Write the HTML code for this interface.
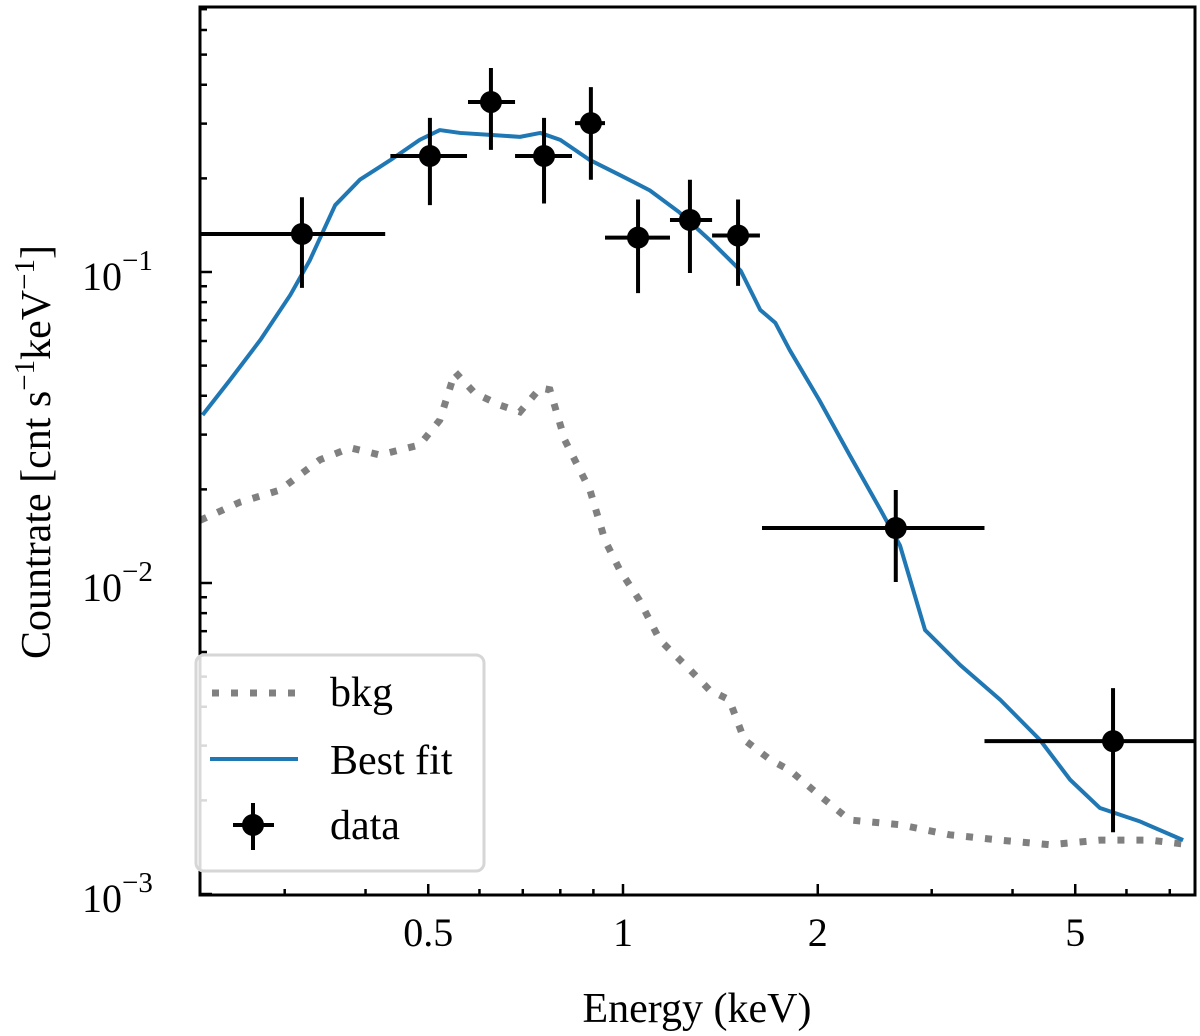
<!DOCTYPE html>
<html><head><meta charset="utf-8"><style>
body{margin:0;background:#fff;}
svg{display:block;font-family:"Liberation Serif",serif;}
</style></head><body>
<svg id="chart" width="1200" height="1036" viewBox="0 0 1200 1036">
<defs><clipPath id="clip"><rect x="200" y="7" width="995" height="888"/></clipPath></defs>
<g id="ticks"></g>
<g id="marks" clip-path="url(#clip)"></g>
<rect x="200" y="7" width="995" height="888" fill="none" stroke="#000" stroke-width="3"/>
<g id="labels"></g>
<text x="697" y="1022" font-size="42" text-anchor="middle">Energy (keV)</text>
<text transform="translate(50,452) rotate(-90)" font-size="42" text-anchor="middle">Countrate [cnt s<tspan dy="-16" font-size="29">−1</tspan><tspan dy="16">keV</tspan><tspan dy="-16" font-size="29">−1</tspan><tspan dy="16">]</tspan></text>
<g>
<rect x="196" y="655" width="288" height="216" rx="8" fill="#fff" fill-opacity="0.85" stroke="#d6d6d6" stroke-width="3"/>
<line x1="212" y1="693" x2="295" y2="693" stroke="#808080" stroke-width="7" stroke-dasharray="7 12"/>
<text x="330" y="706" font-size="42">bkg</text>
<line x1="210" y1="759" x2="298" y2="759" stroke="#1f77b4" stroke-width="4"/>
<text x="330" y="774" font-size="42">Best fit</text>
<line x1="233" y1="825" x2="274" y2="825" stroke="#000" stroke-width="4"/>
<line x1="253" y1="803" x2="253" y2="850" stroke="#000" stroke-width="4"/>
<circle cx="253" cy="825" r="11" fill="#000"/>
<text x="330" y="839" font-size="42">data</text>
</g>
</svg>
<script>
const dataE=[0.319,0.503,0.625,0.755,0.892,1.055,1.269,1.506,2.64,5.72];
const dataELo=[0.222,0.437,0.576,0.681,0.843,0.938,1.182,1.373,1.64,3.62];
const dataEHi=[0.429,0.574,0.681,0.834,0.938,1.182,1.373,1.628,3.62,7.64];
const dataV=[0.1325,0.236,0.352,0.236,0.301,0.129,0.147,0.131,0.01502,0.0031];
const dataVLo=[0.0889,0.164,0.247,0.166,0.198,0.0855,0.0993,0.0902,0.01007,0.00158];
const dataVHi=[0.174,0.313,0.453,0.313,0.393,0.171,0.198,0.171,0.0199,0.00459];
const fitE=[0.224,0.247,0.275,0.306,0.328,0.359,0.392,0.437,0.485,0.521,0.560,0.623,0.693,0.745,0.800,0.889,0.989,1.10,1.22,1.36,1.52,1.63,1.72,1.81,2.01,2.24,2.50,2.68,2.93,3.32,3.83,4.41,4.91,5.46,6.30,7.34];
const fitV=[0.0347,0.0450,0.0604,0.0843,0.109,0.164,0.198,0.229,0.266,0.286,0.280,0.276,0.272,0.280,0.266,0.229,0.205,0.183,0.156,0.127,0.101,0.0755,0.0686,0.0561,0.0388,0.0258,0.0172,0.0132,0.00706,0.00545,0.00421,0.00313,0.00233,0.00189,0.00171,0.00149];
const bkgE=[0.222,0.256,0.295,0.340,0.379,0.421,0.485,0.521,0.550,0.590,0.646,0.693,0.745,0.771,0.813,0.889,0.938,0.989,1.06,1.14,1.27,1.36,1.46,1.54,1.69,1.81,2.01,2.24,2.68,3.20,3.83,4.57,5.46,6.53,7.52];
const bkgV=[0.0159,0.0182,0.0199,0.0249,0.0272,0.0258,0.0278,0.0334,0.0477,0.0408,0.0373,0.0355,0.0424,0.0418,0.0288,0.0199,0.0137,0.0110,0.00881,0.00656,0.00525,0.00453,0.00421,0.00313,0.00270,0.00250,0.00208,0.00173,0.00167,0.00155,0.00149,0.00144,0.00149,0.00149,0.00144];
const xTickVals=[0.5,1,2,5];
const xTickLabels=["0.5","1","2","5"];
const yTickVals=[0.001,0.01,0.1];

const NS="http://www.w3.org/2000/svg";
const X=e=>623+647*Math.log10(e);
const Y=v=>583-311*(Math.log10(v)+2);
function mk(tag,attrs,parent){const el=document.createElementNS(NS,tag);for(const k in attrs)el.setAttribute(k,attrs[k]);parent.appendChild(el);return el;}
const marks=document.getElementById('marks'),ticks=document.getElementById('ticks'),labels=document.getElementById('labels');

for(let d=-1;d<=0;d++)for(let m=1;m<=9;m++){const e=m*Math.pow(10,d);const xx=X(e);if(xx<200||xx>1195)continue;
 const major=xTickVals.includes(+e.toFixed(3));const L=major?11:6;
 const t=mk('line',{x1:xx,y1:895,x2:xx,y2:895-L,stroke:'#000','stroke-width':2.5},ticks);
 }
xTickVals.forEach((v,i)=>{const t=mk('text',{x:X(v),y:946,'font-size':40,'text-anchor':'middle'},labels);t.textContent=xTickLabels[i];
 });
for(let d=-3;d<=-1;d++)for(let m=1;m<=9;m++){const v=m*Math.pow(10,d);const yy=Y(v);if(yy<7||yy>895)continue;
 const L=m===1?12:7;
 const t=mk('line',{x1:200,y1:yy,x2:200+L,y2:yy,stroke:'#000','stroke-width':2.5},ticks);
 }
yTickVals.forEach(v=>{const t=mk('text',{x:82,y:Y(v)+18,'font-size':40},labels);
 t.innerHTML='10<tspan dy="-20" font-size="29">−'+(-Math.round(Math.log10(v)))+'</tspan>';
 });

let p=mk('polyline',{points:bkgE.map((e,i)=>X(e)+','+Y(bkgV[i])).join(' '),fill:'none',stroke:'#808080','stroke-width':7,'stroke-dasharray':'7 12'},marks);

p=mk('polyline',{points:fitE.map((e,i)=>X(e)+','+Y(fitV[i])).join(' '),fill:'none',stroke:'#1f77b4','stroke-width':4,'stroke-linejoin':'round'},marks);

dataE.forEach((e,i)=>{const g=mk('g',{},marks);
 
 mk('line',{x1:X(dataELo[i]),y1:Y(dataV[i]),x2:X(dataEHi[i]),y2:Y(dataV[i]),stroke:'#000','stroke-width':4},g);
 mk('line',{x1:X(e),y1:Y(dataVLo[i]),x2:X(e),y2:Y(dataVHi[i]),stroke:'#000','stroke-width':4},g);
 mk('circle',{cx:X(e),cy:Y(dataV[i]),r:11,fill:'#000'},g);});
</script>
</body></html>
